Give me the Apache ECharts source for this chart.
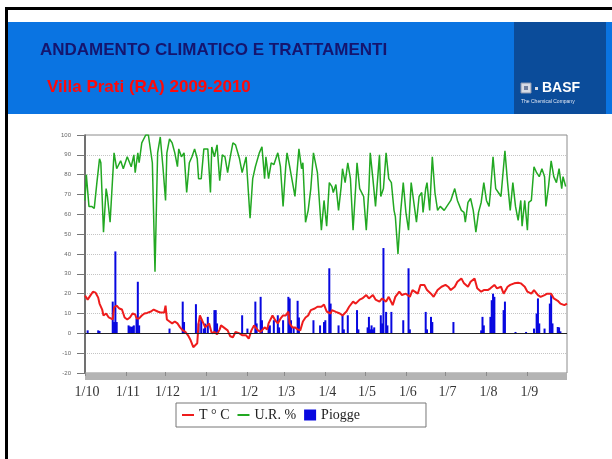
<!DOCTYPE html>
<html>
<head>
<meta charset="utf-8">
<script src="https://cdn.jsdelivr.net/npm/echarts@6/dist/echarts.min.js"></script>
<style>
  html, body { margin: 0; padding: 0; background: #ffffff; }
  #chart { width: 612px; height: 459px; }
</style>
</head>
<body>
<div id="chart"></div>
<script>
// Daily observations, 1 Oct 2009 - 30 Sep 2010, as [day index, value]
const temperature = [
  [0,19],[2,17],[4,19],[6,21],[8,20.5],[10,18],[11,15],[13,12],[14,9],[16,10],[18,8],[21,7],[22,13],[24,14],
  [26,12.5],[28,12],[30,8],[32,7],[34,8],[36,10],[38,9.5],[39,7.5],[41,7.5],[43,9],[45,10],[47,10.3],[50,11],
  [52,12],[55,11],[57,10.5],[60,10.5],[61,14],[62,7],[64,6],[66,5],[68,6],[70,5],[72,3],[74,1.5],[76,0.7],
  [78,-1],[80,-3.5],[82,-7],[83,-8],[85,-5],[86,5],[87,9],[89,6],[91,3],[92,3],[94,5],[96,0],[98,0.7],
  [100,-0.5],[102,2],[103,4],[105,3],[108,1.5],[110,-1.5],[112,-2],[114,0.7],[117,0],[119,-1],[122,-1],
  [124,-2.7],[126,1.5],[128,4],[129,3],[131,1.5],[133,0.7],[136,3],[138,2],[139,5],[142,9],[144,6.6],
  [146,5],[148,7.4],[150,9],[152,9],[154,11],[155,5],[157,3],[159,3],[161,2],[163,1.5],[165,6],[167,8],
  [169,9],[171,11.7],[174,12.5],[176,13.4],[179,13.4],[181,14.5],[183,11],[186,10],[187,11.7],[190,10.8],
  [193,10],[195,9],[198,11],[200,13.4],[203,16],[205,15],[208,17],[210,17.6],[213,19.3],[215,17.6],
  [218,19.3],[220,17],[223,16],[225,17.6],[228,16],[230,18.4],[233,14.2],[235,18.4],[238,21],[240,19.3],
  [243,20],[246,18.4],[248,21.8],[252,20],[254,24.4],[257,24.4],[259,21.8],[262,20],[264,18.4],[267,21.8],
  [270,23.5],[273,24.4],[275,23.5],[277,21.8],[280,23.5],[282,26],[285,27.7],[287,25.2],[290,23.5],
  [292,26],[295,27.7],[297,22.7],[300,21],[302,21.8],[305,21.8],[307,22.7],[310,24.4],[312,22.7],
  [315,23.5],[317,20],[320,23.5],[322,24.4],[325,25.2],[328,25.5],[330,25.2],[333,23.5],[335,21],
  [338,20],[340,21.8],[343,19.3],[345,18.4],[348,19.3],[350,20],[353,20],[355,17.6],[358,16.4],
  [360,15],[363,14.2],[365,15]
];

const humidity = [
  [0,67],[1,80],[2,72],[3,64],[5,64],[7,63],[9,76],[11,88],[12,86],[14,51],[16,73],[17,69],[19,56],
  [22,91],[24,83],[27,87],[29,83],[32,89],[35,84],[37,90],[38,81],[40,91],[41,86],[43,96],[46,100],
  [48,100],[51,86],[53,31],[55,91],[57,99],[59,84],[61,67],[62,91],[64,98],[66,96],[68,91],[70,84],
  [71,93],[73,89],[75,91],[77,71],[79,86],[81,89],[83,93],[85,88],[86,78],[88,78],[90,93],
  [93,93],[95,71],[96,94],[98,89],[100,95],[102,77],[104,90],[106,89],[108,81],[110,89],[112,96],
  [114,95],[117,88],[119,81],[122,89],[125,58],[127,78],[129,84],[132,91],[134,94],[136,78],[137,89],
  [139,78],[141,86],[143,85],[146,91],[148,84],[150,64],[152,84],[153,91],[155,84],[159,69],[162,93],
  [164,83],[165,86],[167,56],[169,62],[171,73],[173,91],[176,81],[179,52],[181,67],
  [183,54],[185,76],[187,74],[188,71],[190,75],[192,62],[194,74],[195,83],[197,76],[199,86],[201,78],
  [203,52],[205,74],[206,86],[208,73],[211,69],[213,52],[215,73],[216,91],[218,78],[220,64],[223,90],
  [224,69],[226,73],[228,91],[230,78],[232,76],[234,62],[235,59],[237,40],[239,61],[241,76],[243,61],
  [245,52],[247,76],[249,66],[251,56],[253,69],[255,71],[256,61],[258,73],[259,76],[261,62],[263,89],
  [265,71],[267,62],[269,64],[272,62],[274,64],[277,67],[280,73],[282,67],[283,66],[285,62],[287,61],
  [288,56],[290,66],[292,68],[294,62],[296,51],[298,61],[300,66],[302,76],[304,67],[306,64],[307,71],
  [309,89],[311,73],[313,71],[315,69],[318,92],[320,76],[322,62],[324,76],[326,64],[328,57],[330,67],
  [331,54],[333,67],[335,52],[336,66],[338,67],[340,84],[342,81],[344,79],[346,83],[348,79],[349,64],
  [351,74],[353,87],[355,79],[357,76],[359,83],[361,73],[362,79],[364,74]
];

const rainfall = [
  [2,1.5],[10,1.5],[11,1.2],[21,16],[22,5.7],[23,41.3],[24,5.7],[33,4],[34,3.5],[35,3.2],[36,3.5],[37,4],
  [39,7.4],[40,26],[41,4],[64,2.4],[74,16],[75,5.7],[84,14.7],[86,5],[88,7],[90,2.4],
  [91,4.9],[93,8.3],[98,11.7],[99,11.7],[100,5],[119,9.1],[123,2.4],[129,16],[130,5],[133,18.4],[134,6.6],
  [139,3.2],[140,4],[143,6.6],[146,9.1],[147,3],[150,6.6],[154,18.4],[155,17.6],[156,6.6],[158,3],
  [161,16.4],[162,8],[173,6.6],[178,4],[181,5.7],
  [182,6.6],[185,32.8],[186,15],[192,4],[195,9.1],[196,2],[199,9.1],[206,11.7],[207,2],[214,3],[215,8.3],
  [216,2],[217,4],[218,2],[219,3],[224,9.1],[225,5],[226,43],[228,10.8],[229,4],[232,10.8],[241,6.6],
  [245,32.8],[246,2],[258,10.8],[259,2],[262,8.3],[263,5.7],
  [279,5.7],[300,1.5],[301,8.3],[302,4],[307,8.3],[308,16.7],[309,20],[310,18.4],[317,11.7],[318,16],
  [326,0.7],[334,0.7],[340,2.4],[342,10],[343,17.6],[344,5],[348,2.4],[352,15],[353,19.3],[354,5],
  [358,3.2],[359,3],[360,1]
];

const seriesNames = ['T \u00b0 C', 'U.R. %', 'Piogge'];
const yTicks = { min: -20, max: 100, step: 10 };
const titleText = 'ANDAMENTO CLIMATICO E TRATTAMENTI';
const subtitleText = 'Villa Prati (RA) 2009-2010';

// one category per calendar day, labelled "day/month"
const days = [];
for (let i = 0; i <= 365; i++) {
  const d = new Date(2009, 9, 1 + i);
  days.push(d.getDate() + '/' + (d.getMonth() + 1));
}
const isMonthStart = (idx, val) => val.indexOf('1/') === 0 && idx < 365;

const serif = '"Times New Roman", "Liberation Serif", serif';
const sans = 'Arial, "Liberation Sans", sans-serif';

const chart = echarts.init(document.getElementById('chart'), null, { renderer: 'canvas' });

chart.setOption({
  animation: false,
  backgroundColor: '#ffffff',
  title: [
    { text: titleText, left: 40, top: 42, padding: 0,
      textStyle: { fontFamily: sans, fontSize: 17, fontWeight: 'bold', color: '#15156e' } },
    { text: subtitleText, left: 47, top: 79, padding: 0,
      textStyle: { fontFamily: sans, fontSize: 17, fontWeight: 'bold', color: '#ff0a0a' } }
  ],
  graphic: [
    { type: 'rect', z: -10, shape: { x: 8, y: 22, width: 604, height: 92 }, style: { fill: '#0a74e2' } },
    { type: 'rect', z: -9, shape: { x: 514, y: 22, width: 92, height: 92 }, style: { fill: '#0b4c9a' } },
    { type: 'rect', z: 10, shape: { x: 5, y: 7, width: 607, height: 3 }, style: { fill: '#000000' } },
    { type: 'rect', z: 10, shape: { x: 5, y: 7, width: 3, height: 452 }, style: { fill: '#000000' } },
    // company mark
    { type: 'rect', z: 5, shape: { x: 521, y: 83, width: 10, height: 10 }, style: { fill: '#d8dce6', stroke: '#8a96b0', lineWidth: 1 } },
    { type: 'rect', z: 6, shape: { x: 524, y: 86, width: 4, height: 4 }, style: { fill: '#6f7fa0' } },
    { type: 'rect', z: 5, shape: { x: 535, y: 87, width: 3, height: 3 }, style: { fill: '#d8dce6' } },
    { type: 'text', z: 5, style: { x: 542, y: 88, text: 'BASF', fill: '#ffffff',
        font: 'bold 14px Arial, "Liberation Sans", sans-serif', textVerticalAlign: 'middle' } },
    { type: 'text', z: 5, style: { x: 521, y: 102, text: 'The Chemical Company', fill: '#dfe6f3',
        font: '5px Arial, "Liberation Sans", sans-serif', textVerticalAlign: 'middle' } }
  ],
  legend: {
    left: 176, top: 403,
    padding: [5, 66, 5, 6],
    itemGap: 8, itemWidth: 12, itemHeight: 11,
    borderColor: '#777777', borderWidth: 1, backgroundColor: '#ffffff',
    textStyle: { fontFamily: serif, fontSize: 14, color: '#222222' },
    data: [
      { name: seriesNames[0], icon: 'path://M0,0 L12,0 L12,2 L0,2 Z' },
      { name: seriesNames[1], icon: 'path://M0,0 L12,0 L12,2 L0,2 Z' },
      { name: seriesNames[2], icon: 'rect' }
    ]
  },
  grid: {
    left: 85, right: 45, top: 135, bottom: 86,
    show: true, borderColor: '#8c8c8c', borderWidth: 1, backgroundColor: 'transparent'
  },
  xAxis: {
    type: 'category',
    data: days,
    boundaryGap: false,
    position: 'bottom',
    offset: 3,
    axisLine: { show: true, onZero: false, lineStyle: { color: '#b4b4b4', width: 7, cap: 'butt' } },
    axisTick: { show: true, interval: isMonthStart, length: 4, inside: true,
      lineStyle: { color: '#8a8a8a', width: 1 } },
    axisLabel: { show: true, interval: isMonthStart, margin: 9, padding: [0, 0, 0, 4],
      fontFamily: serif, fontSize: 14, color: '#333333' },
    splitLine: { show: false }
  },
  yAxis: {
    type: 'value',
    min: yTicks.min, max: yTicks.max, interval: yTicks.step,
    axisLine: { show: true, onZero: false, lineStyle: { color: '#555555', width: 1.5 } },
    axisTick: { show: true, length: 8, lineStyle: { color: '#777777' } },
    axisLabel: { margin: 14, fontFamily: sans, fontSize: 6, color: '#666666' },
    splitLine: { show: true, lineStyle: { color: '#c4c4c4', type: 'dotted', width: 1 } }
  },
  series: [
    {
      name: seriesNames[2], type: 'bar', z: 1,
      data: rainfall, barWidth: 2,
      itemStyle: { color: '#0808e0' },
      markLine: {
        silent: true, symbol: 'none', label: { show: false },
        lineStyle: { color: '#222222', type: 'solid', width: 1.2 },
        data: [{ yAxis: 0 }]
      }
    },
    {
      name: seriesNames[1], type: 'line', z: 3,
      data: humidity, showSymbol: false, symbol: 'none',
      lineStyle: { color: '#22a822', width: 1.5 },
      itemStyle: { color: '#22a822' }
    },
    {
      name: seriesNames[0], type: 'line', z: 4,
      data: temperature, showSymbol: false, symbol: 'none',
      lineStyle: { color: '#ee1c1c', width: 2 },
      itemStyle: { color: '#ee1c1c' }
    }
  ]
});
</script>
</body>
</html>
